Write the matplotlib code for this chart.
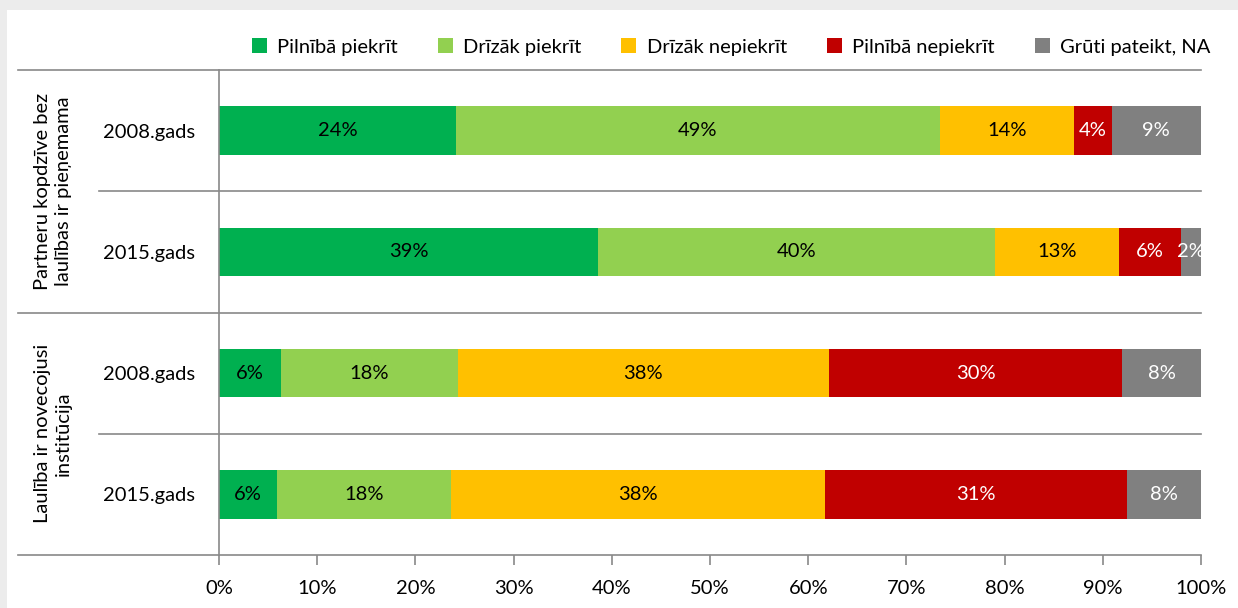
import matplotlib.pyplot as plt
from matplotlib.patches import Rectangle, Patch

plt.rcParams['font.family'] = ['Lato', 'DejaVu Sans']

# rows top to bottom
row_labels = ['2008.gads', '2015.gads', '2008.gads', '2015.gads']
groups = ['Partneru kopdzīve bez\nlaulības ir pieņemama', 'Laulība ir novecojusi\ninstitūcija']
series = ['Pilnībā piekrīt', 'Drīzāk piekrīt', 'Drīzāk nepiekrīt', 'Pilnībā nepiekrīt', 'Grūti pateikt, NA']
colors = ['#00B050', '#92D050', '#FFC000', '#C00000', '#808080']
text_colors = ['black', 'black', 'black', 'white', 'white']

pilniba_piekrit = [24.1, 38.6, 6.3, 5.9]
drizak_piekrit = [49.3, 40.4, 18.0, 17.7]
drizak_nepiekrit = [13.7, 12.6, 37.8, 38.1]
pilniba_nepiekrit = [3.8, 6.4, 29.9, 30.8]
gruti_pateikt = [9.1, 2.0, 8.0, 7.5]
values = [pilniba_piekrit, drizak_piekrit, drizak_nepiekrit, pilniba_nepiekrit, gruti_pateikt]

fs = 14.5

fig = plt.figure(figsize=(12.38, 6.08), dpi=100)
fig.patch.set_facecolor('#ececec')
fig.patches.append(Rectangle((7 / 1238, 0), 1, 1 - 10 / 608, transform=fig.transFigure,
                             facecolor='white', edgecolor='none', zorder=-1))

ax = fig.add_axes([219 / 1238, 1 - 555 / 608, 982 / 1238, 485 / 608])
ax.set_facecolor('none')

ypos = list(range(len(row_labels)))
left = [0] * len(row_labels)
for vals, col, tcol in zip(values, colors, text_colors):
    ax.barh(ypos, vals, left=left, height=0.4, color=col, edgecolor='none')
    for y, l, v in zip(ypos, left, vals):
        ax.text(l + v / 2, y, f'{v:.0f}%', ha='center', va='center', color=tcol, fontsize=fs)
    left = [a + b for a, b in zip(left, vals)]

ax.set_xlim(0, 100)
ax.set_ylim(3.5, -0.5)
ax.set_xticks(range(0, 101, 10))
ax.set_xticklabels([f'{t}%' for t in range(0, 101, 10)], fontsize=fs)
ax.set_yticks(ypos)
ax.set_yticklabels(row_labels, fontsize=fs)
ax.tick_params(axis='y', length=0, pad=17)
ax.tick_params(axis='x', length=7, color='#898989', width=1.2, pad=11)

for s in ['top', 'right', 'bottom']:
    ax.spines[s].set_visible(False)
ax.spines['left'].set_color('#898989')
ax.spines['left'].set_linewidth(1.2)

tr = ax.get_yaxis_transform()
for y, x0 in [(-0.5, -0.2047), (0.5, -0.1222), (1.5, -0.2047), (2.5, -0.1222), (3.5, -0.2047)]:
    ax.plot([x0, 1], [y, y], color='#898989', lw=1.2, transform=tr, clip_on=False)

for g, yc in zip(groups, [0.5, 2.5]):
    ax.text(-0.169, yc, g, transform=tr, rotation=90, ha='center', va='center',
            multialignment='center', fontsize=fs, linespacing=1.3)

handles = [Patch(facecolor=c, edgecolor='none') for c in colors]
fig.legend(handles, series, loc='center', bbox_to_anchor=(731 / 1238, 1 - 47 / 608), ncol=5,
           frameon=False, fontsize=fs, handlelength=0.75, handleheight=0.75,
           handletextpad=0.5, columnspacing=2.0)

fig.savefig('out.png', dpi=100)
